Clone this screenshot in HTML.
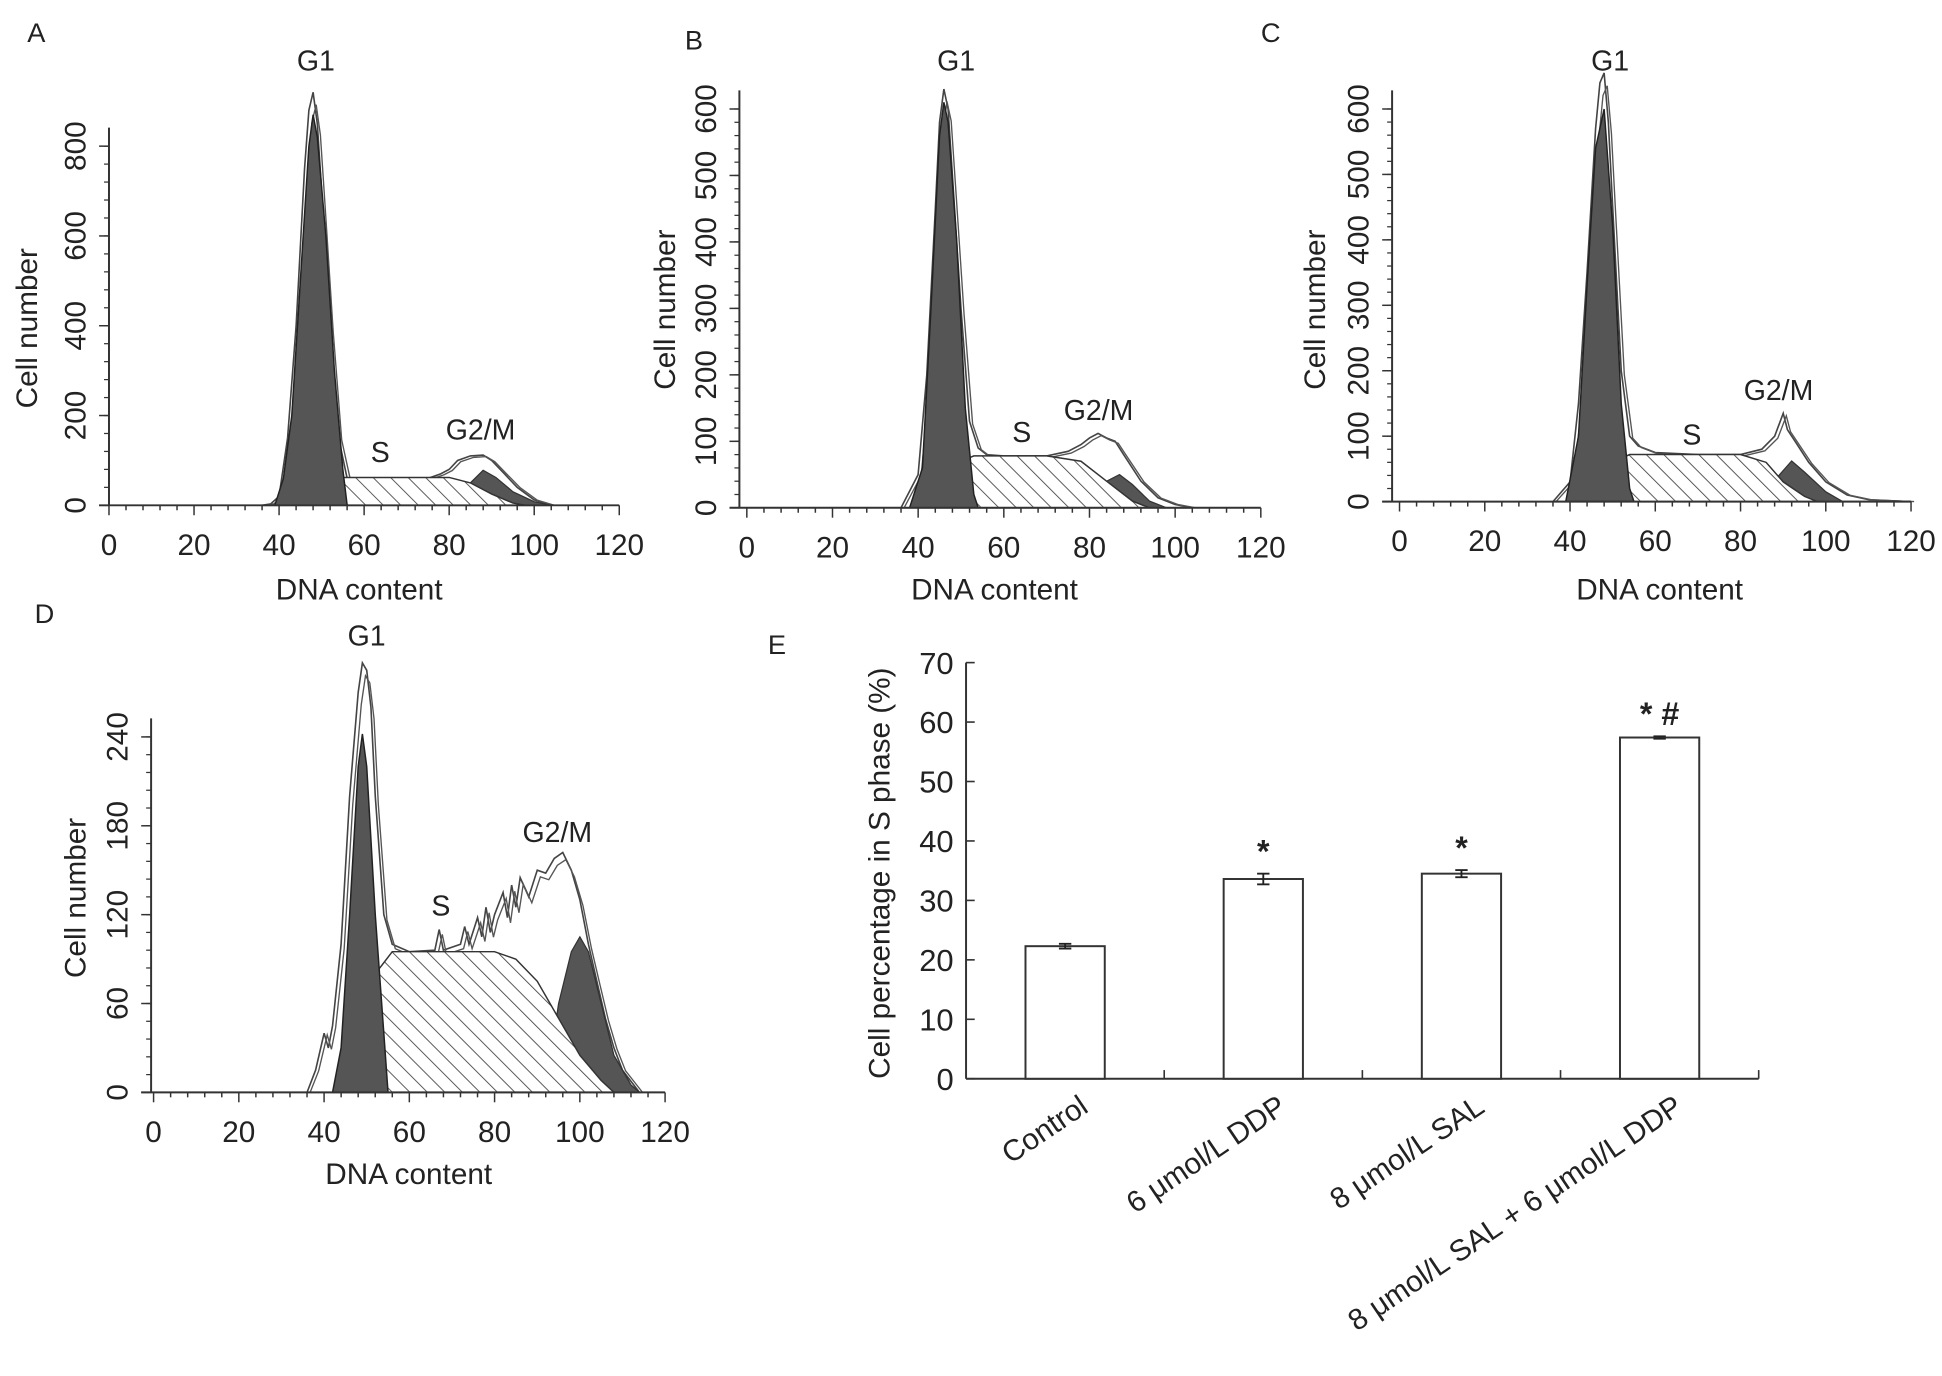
<!DOCTYPE html>
<html><head><meta charset="utf-8"><style>
html,body{margin:0;padding:0;background:#fff;}
svg{display:block;font-family:"Liberation Sans",Arial,sans-serif;}
</style></head><body>
<svg id="fig" width="1942" height="1376" viewBox="0 0 1568 1111">
<defs>
<pattern id="hatch" patternUnits="userSpaceOnUse" width="10" height="10" patternTransform="rotate(-45)">
<rect width="10" height="10" fill="#fff"/><line x1="0" y1="0" x2="0" y2="10" stroke="#444" stroke-width="1.4"/>
</pattern>
</defs>
</svg>
<script>
// ---- Histogram data (DNA content, cell count) ----
const histA_env=[[36,0],[38,3],[40,20],[42,150],[44,400],[46,750],[47,880],[48,920],[49,850],[50,700],[52,400],[54,150],[56,60],[58,55],[60,52],[65,55],[70,55],[75,60],[78,70],[80,80],[82,100],[85,110],[88,112],[90,100],[93,70],[96,40],[100,12],[104,0]];
const histA_g1=[[39,0],[41,60],[43,200],[45,500],[47,800],[48,870],[49,820],[51,600],[53,300],[55,80],[56,0]];
const histA_s=[[44,0],[47,20],[50,50],[53,62],[60,62],[70,62],[80,62],[85,50],[90,25],[95,5],[98,0]];
const histA_g2=[[82,0],[85,50],[88,78],[91,62],[95,30],[100,8],[104,0]];

const histB_env=[[36,0],[40,50],[42,200],[44,450],[45,580],[46,630],[47,600],[48,500],[50,300],[52,130],[54,90],[56,80],[60,78],[70,78],[75,85],[78,95],[80,105],[82,112],[84,105],[86,100],[88,80],[92,40],[96,15],[100,5],[104,0]];
const histB_g1=[[38,0],[41,60],[43,300],[45,560],[46,610],[47,580],[49,400],[51,150],[53,20],[54,0]];
const histB_s=[[42,0],[45,30],[50,70],[53,78],[70,78],[78,70],[84,40],[90,10],[94,0]];
const histB_g2=[[80,0],[84,40],[87,50],[90,35],[94,10],[98,0]];

const histC_env=[[36,0],[40,30],[42,150],[44,350],[46,570],[47,640],[48,655],[49,580],[50,450],[52,200],[54,100],[56,85],[60,75],[70,72],[80,72],[85,80],[88,100],[90,135],[91,110],[93,90],[96,60],[100,30],[105,10],[110,3],[120,0]];
const histC_g1=[[39,0],[42,100],[44,330],[46,540],[48,600],[50,420],[52,150],[54,20],[55,0]];
const histC_s=[[42,0],[46,30],[50,60],[54,72],[80,72],[86,60],[90,30],[95,8],[98,0]];
const histC_g2=[[86,0],[89,40],[92,62],[95,45],[100,15],[104,0]];

const histD_env=[[36,0],[38,15],[40,40],[41,30],[42,45],[44,100],[46,200],[48,270],[49,290],[50,285],[51,260],[52,200],[54,120],[56,100],[60,95],[66,96],[67,110],[68,96],[72,100],[73,112],[74,100],[76,118],[77,105],[78,125],[79,108],[80,120],[82,135],[83,118],[84,140],[85,125],[86,145],[88,132],[90,150],[92,148],[94,158],[96,162],[98,150],[100,130],[102,100],[104,75],[106,50],[108,30],[110,15],[114,0]];
const histD_g1=[[42,0],[44,30],[46,120],[48,220],[49,242],[50,220],[52,120],[54,40],[55,0]];
const histD_s=[[44,0],[48,40],[52,80],[56,95],[80,95],[85,90],[90,75],[95,50],[100,25],[105,8],[108,0]];
const histD_g2=[[92,0],[95,60],[98,95],[100,105],[102,95],[105,60],[108,25],[112,5],[114,0]];

const xTicks=[0,20,40,60,80,100,120];
const yTicksA=[0,200,400,600,800];
const yTicksBC=[0,100,200,300,400,500,600];
const yTicksD=[0,60,120,180,240];

// ---- Bar chart data ----
const barCategories=["Control","6 μmol/L DDP","8 μmol/L SAL","8 μmol/L SAL + 6 μmol/L DDP"];
const barValues=[22.3,33.6,34.5,57.4];
const barErrors=[0.4,0.9,0.6,0.2];
const barMarks=["","*","*","* #"];
const barTicks=[0,10,20,30,40,50,60,70];

const NS="http://www.w3.org/2000/svg";
const svg=document.getElementById('fig');
function el(tag,attrs,parent,txt){const e=document.createElementNS(NS,tag);for(const k in attrs)e.setAttribute(k,attrs[k]);if(txt!==undefined)e.textContent=txt;(parent||svg).appendChild(e);return e;}

function panel(p){
  const g=el('g',{});
  
  
  const sx=v=>p.x0+(v/120)*(p.x1-p.x0);
  const sy=v=>p.y0-(v/p.ymax)*(p.y0-p.ytop);
  const poly=arr=>arr.map(d=>sx(d[0]).toFixed(1)+','+sy(d[1]).toFixed(1)).join(' ');
  const e1=el('polygon',{points:poly(p.env),fill:'#fff',stroke:'#444','stroke-width':1.3},g);
  
  
  const e2=el('polyline',{points:p.env.map(d=>(sx(d[0])+2.5).toFixed(1)+','+sy(d[1]*0.97).toFixed(1)).join(' '),fill:'none',stroke:'#555','stroke-width':1.1},g);
  
  
  const g2=el('polygon',{points:poly(p.g2),fill:'#555',stroke:'#333','stroke-width':1},g);
  
  
  const s=el('polygon',{points:poly(p.s),fill:'url(#hatch)',stroke:'#333','stroke-width':1.2},g);
  
  
  const g1=el('polygon',{points:poly(p.g1),fill:'#555',stroke:'#222','stroke-width':1.2},g);
  
  
  el('line',{x1:p.ax,y1:p.ytop-15,x2:p.ax,y2:p.y0,stroke:'#333','stroke-width':1.6},g);
  el('line',{x1:p.ax-8,y1:p.y0,x2:p.x1,y2:p.y0,stroke:'#333','stroke-width':1.6},g);
  for(let v=0;v<=120;v+=4){const big=v%20===0;el('line',{x1:sx(v),y1:p.y0,x2:sx(v),y2:p.y0+(big?8:4),stroke:'#333','stroke-width':1.2},g);}
  xTicks.forEach(v=>{const t=el('text',{x:sx(v),y:p.y0+40,'text-anchor':'middle','font-size':24,fill:'#222'},g,v);});
  const minor=(p.ticks[1]-p.ticks[0])/5;
  for(let v=0;v<=p.ymax+0.001;v+=minor){el('line',{x1:p.ax-4,y1:sy(v),x2:p.ax,y2:sy(v),stroke:'#333','stroke-width':1},g);}
  p.ticks.forEach(v=>{el('line',{x1:p.ax-8,y1:sy(v),x2:p.ax,y2:sy(v),stroke:'#333','stroke-width':1.2},g);
    const t=el('text',{x:p.ax-19,y:sy(v),'text-anchor':'middle','font-size':24,fill:'#222',transform:`rotate(-90 ${p.ax-19} ${sy(v)})`},g,v);});
  const xt=el('text',{x:p.xtx,y:p.xty,'text-anchor':'middle','font-size':24,fill:'#222'},g,'DNA content');
  
  const yt=el('text',{x:p.ytx,y:p.yty,'text-anchor':'middle','font-size':24,fill:'#222',transform:`rotate(-90 ${p.ytx} ${p.yty})`},g,'Cell number');
  
  const lt=el('text',{x:p.lx,y:p.ly,'font-size':22,fill:'#222'},g,p.id);
  
  p.labels.forEach(l=>{const t=el('text',{x:l[1],y:l[2],'text-anchor':'middle','font-size':23,fill:'#222'},g,l[0]);});
}

panel({id:'A',x0:88,x1:500,ax:88,y0:408,ytop:118,ymax:800,ticks:yTicksA,env:histA_env,g1:histA_g1,s:histA_s,g2:histA_g2,
  xtx:290,xty:484,ytx:30,yty:265,lx:22,ly:34,labels:[['G1',255,57],['S',307,373],['G2/M',388,355]]});
panel({id:'B',x0:603,x1:1018,ax:597,y0:410,ytop:88,ymax:600,ticks:yTicksBC,env:histB_env,g1:histB_g1,s:histB_s,g2:histB_g2,
  xtx:803,xty:484,ytx:545,yty:250,lx:553,ly:40,labels:[['G1',772,57],['S',825,357],['G2/M',887,339]]});
panel({id:'C',x0:1130,x1:1543,ax:1124,y0:405,ytop:88,ymax:600,ticks:yTicksBC,env:histC_env,g1:histC_g1,s:histC_s,g2:histC_g2,
  xtx:1340,xty:484,ytx:1070,yty:250,lx:1018,ly:34,labels:[['G1',1300,57],['S',1366,359],['G2/M',1436,323]]});
panel({id:'D',x0:124,x1:537,ax:122,y0:882,ytop:595,ymax:240,ticks:yTicksD,env:histD_env,g1:histD_g1,s:histD_s,g2:histD_g2,
  xtx:330,xty:956,ytx:69,yty:725,lx:28,ly:503,labels:[['G1',296,521],['S',356,739],['G2/M',450,680]]});

// ---- Panel E bar chart ----
(function(){
  const g=el('g',{});
  
  
  const ax=780,y0=871,ytop=535,xEnd=1420,bw=64,step=(xEnd-ax)/barCategories.length;
  const sy=v=>y0-(v/70)*(y0-ytop);
  el('line',{x1:ax,y1:ytop,x2:ax,y2:y0,stroke:'#333','stroke-width':1.6},g);
  el('line',{x1:ax,y1:y0,x2:xEnd,y2:y0,stroke:'#333','stroke-width':1.6},g);
  barTicks.forEach(v=>{el('line',{x1:ax,y1:sy(v),x2:ax+7,y2:sy(v),stroke:'#333','stroke-width':1.3},g);
    const t=el('text',{x:ax-10,y:sy(v)+9,'text-anchor':'end','font-size':25,fill:'#222'},g,v);});
  for(let i=1;i<=barCategories.length;i++){el('line',{x1:ax+i*step,y1:y0,x2:ax+i*step,y2:y0-7,stroke:'#333','stroke-width':1.3},g);}
  barCategories.forEach((c,i)=>{
    const cx=ax+(i+0.5)*step;
    const r=el('rect',{x:cx-bw/2,y:sy(barValues[i]),width:bw,height:y0-sy(barValues[i]),fill:'#fff',stroke:'#333','stroke-width':1.6},g);
    
    
    const ey1=sy(barValues[i]+barErrors[i]),ey2=sy(barValues[i]-barErrors[i]);
    el('line',{x1:cx,y1:ey1,x2:cx,y2:ey2,stroke:'#222','stroke-width':1.5},g);
    el('line',{x1:cx-5,y1:ey1,x2:cx+5,y2:ey1,stroke:'#222','stroke-width':1.5},g);
    el('line',{x1:cx-5,y1:ey2,x2:cx+5,y2:ey2,stroke:'#222','stroke-width':1.5},g);
    if(barMarks[i]){const m=el('text',{x:cx,y:sy(barValues[i]+barErrors[i])-9,'text-anchor':'middle','font-size':26,'font-weight':'bold',fill:'#222'},g,barMarks[i]);
      }
    const lx=cx+20,ly=y0+26;
    const t=el('text',{x:lx,y:ly,'text-anchor':'end','font-size':24,fill:'#222',transform:`rotate(-34 ${lx} ${ly})`},g,c);
    
    
  });
  const yt=el('text',{x:718,y:705,'text-anchor':'middle','font-size':24,fill:'#222',transform:'rotate(-90 718 705)'},g,'Cell percentage in S phase (%)');
  
  const lt=el('text',{x:620,y:528,'font-size':22,fill:'#222'},g,'E');
  
})();
</script>
</body></html>
